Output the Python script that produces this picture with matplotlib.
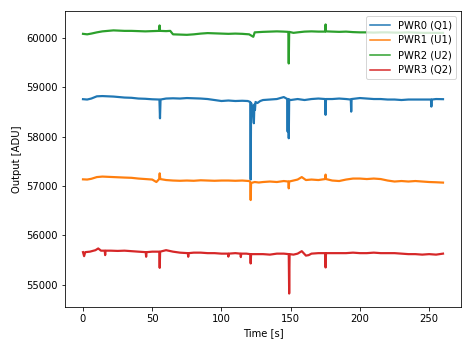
import matplotlib
matplotlib.use("Agg")
import matplotlib.pyplot as plt

labels = ["PWR0 (Q1)", "PWR1 (U1)", "PWR2 (U2)", "PWR3 (Q2)"]

pwr0 = [(0, 58757), (3, 58750), (6, 58770), (10, 58815), (14, 58820), (18, 58815), (22, 58810),
        (26, 58800), (30, 58790), (35, 58785), (40, 58770), (45, 58765), (50, 58755), (55.2, 58750),
        (55.6, 58370), (56.0, 58750), (60, 58770), (65, 58775), (70, 58770), (75, 58780), (80, 58775),
        (85, 58770), (90, 58760), (95, 58740), (100, 58720), (105, 58730), (110, 58720), (115, 58725),
        (119, 58720), (120.8, 58700), (121.1, 57130), (121.4, 58680), (122.5, 58560), (123.4, 58270),
        (123.8, 58650), (124.2, 58540), (124.6, 58700), (126, 58680), (128, 58720), (130, 58740),
        (135, 58750), (140, 58760), (145, 58800), (147.6, 58760), (147.8, 58100), (148.0, 58760),
        (148.3, 58760), (148.6, 57966), (148.9, 58750), (150, 58740), (155, 58760), (160, 58740),
        (165, 58760), (170, 58770), (174.9, 58760), (175.2, 58440), (175.5, 58760), (180, 58760),
        (185, 58770), (190, 58760), (193.4, 58750), (193.7, 58505), (194.0, 58760), (200, 58780),
        (205, 58770), (210, 58760), (215, 58760), (220, 58750), (225, 58750), (230, 58740),
        (235, 58750), (240, 58750), (245, 58750), (251.3, 58750), (251.6, 58607), (251.9, 58750),
        (255, 58760), (260, 58757)]

pwr1 = [(0, 57134), (3, 57130), (6, 57145), (10, 57180), (14, 57190), (18, 57185), (22, 57180),
        (26, 57175), (30, 57170), (35, 57165), (40, 57150), (45, 57140), (50, 57130), (53, 57080),
        (55, 57140), (55.4, 57256), (55.8, 57140), (60, 57120), (65, 57110), (70, 57105), (75, 57110),
        (80, 57105), (85, 57115), (90, 57110), (95, 57105), (100, 57110), (105, 57110), (110, 57105),
        (115, 57110), (120, 57100), (120.8, 57080), (121.1, 56715), (121.4, 57060), (124, 57080),
        (127, 57070), (130, 57080), (135, 57090), (140, 57080), (145, 57100), (148.3, 57090),
        (148.6, 56952), (148.9, 57090), (152, 57110), (155, 57130), (158, 57180), (161, 57120),
        (165, 57130), (170, 57120), (174.9, 57140), (175.2, 57230), (175.5, 57140), (180, 57110),
        (185, 57100), (190, 57130), (195, 57150), (200, 57150), (205, 57140), (210, 57150),
        (215, 57140), (220, 57110), (225, 57090), (230, 57100), (235, 57090), (240, 57100),
        (245, 57090), (250, 57080), (255, 57075), (260, 57068)]

pwr2 = [(0, 60080), (3, 60070), (6, 60085), (10, 60110), (14, 60130), (18, 60140), (22, 60150),
        (26, 60145), (30, 60140), (35, 60140), (40, 60135), (45, 60130), (50, 60135), (55.0, 60140),
        (55.3, 60250), (55.6, 60140), (60, 60135), (63, 60140), (65, 60070), (70, 60065), (75, 60060),
        (80, 60070), (85, 60085), (90, 60095), (95, 60090), (100, 60085), (105, 60080), (110, 60085),
        (115, 60080), (120, 60070), (123, 60020), (124, 60110), (127, 60115), (130, 60120),
        (135, 60125), (140, 60130), (145, 60125), (148.3, 60120), (148.6, 59480), (148.9, 60120),
        (152, 60100), (155, 60110), (160, 60125), (165, 60130), (170, 60125), (174.9, 60125),
        (175.2, 60270), (175.5, 60130), (180, 60125), (185, 60120), (190, 60125), (195, 60115),
        (200, 60110), (205, 60110), (210, 60105), (215, 60110), (220, 60110), (225, 60105),
        (230, 60105), (235, 60110), (240, 60105), (245, 60100), (250, 60100), (255, 60100),
        (260, 60100)]

pwr3 = [(0, 55660), (0.8, 55579), (1.6, 55660), (5, 55670), (9, 55700), (11, 55735), (13, 55690),
        (15.7, 55690), (16, 55600), (16.3, 55690), (20, 55690), (25, 55685), (30, 55690), (35, 55680),
        (40, 55670), (45.3, 55660), (45.6, 55567), (45.9, 55660), (50, 55670), (55.1, 55670),
        (55.4, 55342), (55.7, 55670), (60, 55700), (65, 55670), (70, 55650), (75.7, 55640),
        (76, 55567), (76.3, 55640), (80, 55650), (85, 55650), (90, 55640), (95, 55640), (100, 55630),
        (104.7, 55630), (105, 55570), (105.3, 55630), (110, 55640), (113.7, 55630), (114, 55560),
        (114.3, 55630), (118, 55630), (120.8, 55620), (121.1, 55431), (121.4, 55620), (125, 55620),
        (130, 55620), (135, 55610), (140, 55630), (145, 55630), (148.6, 55620), (148.9, 54822),
        (149.2, 55620), (152, 55610), (155, 55630), (158, 55680), (161, 55590), (163, 55600),
        (165, 55630), (170, 55640), (174.9, 55640), (175.2, 55350), (175.5, 55640), (180, 55640),
        (185, 55640), (190, 55640), (195, 55650), (200, 55640), (205, 55640), (210, 55650),
        (215, 55640), (220, 55640), (225, 55640), (230, 55630), (235, 55620), (240, 55620),
        (245, 55610), (250, 55620), (255, 55610), (260, 55630)]

series = [pwr0, pwr1, pwr2, pwr3]

fig = plt.figure(figsize=(473 / 72, 347 / 72), dpi=72)
ax = fig.add_axes([65 / 473, 1 - 307 / 347, (461 - 65) / 473, (307 - 11) / 347])
for data, lab in zip(series, labels):
    t = [p[0] for p in data]
    v = [p[1] for p in data]
    ax.plot(t, v, label=lab, linewidth=2.2)

ax.set_xlabel("Time [s]")
ax.set_ylabel("Output [ADU]")
leg = ax.legend(loc="upper right")
for h in leg.get_lines():
    h.set_linewidth(1.5)
fig.savefig("out.png", dpi=72)
